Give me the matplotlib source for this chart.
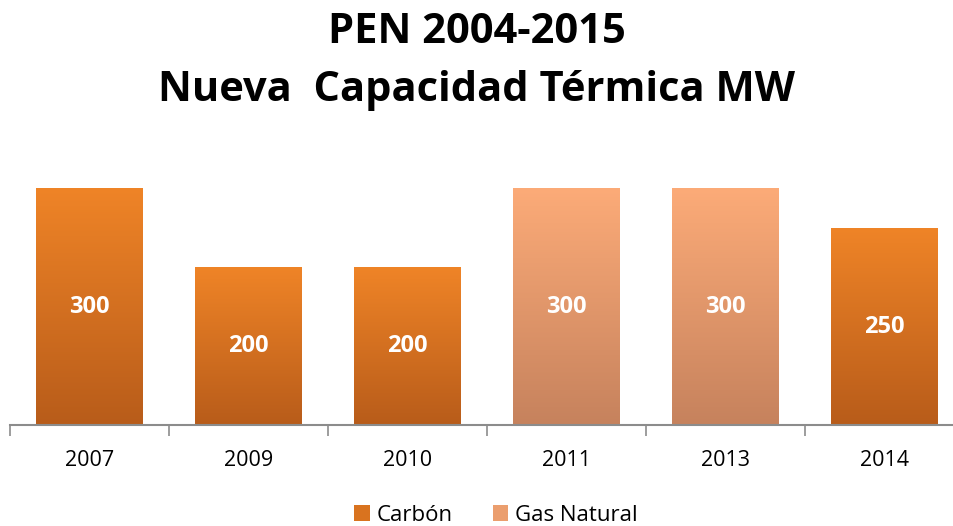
import numpy as np
import matplotlib.pyplot as plt
from matplotlib.colors import LinearSegmentedColormap
from matplotlib.patches import Patch

years = ['2007', '2009', '2010', '2011', '2013', '2014']
capacity = [300, 200, 200, 300, 300, 250]
fuel = ['Carbón', 'Carbón', 'Carbón', 'Gas Natural', 'Gas Natural', 'Carbón']

colors = {'Carbón': ('#ef8427', '#b85c1a'),
          'Gas Natural': ('#fcab78', '#c6825d')}

plt.rcParams['font.family'] = ['Open Sans', 'DejaVu Sans']

fig = plt.figure(figsize=(9.54, 5.26), dpi=100)
ax = fig.add_axes([10 / 954, 101 / 526, 1.0, 255 / 526])

x = np.arange(len(years))
bars = ax.bar(x, capacity, width=0.67, color='none', edgecolor='none')

grad = np.linspace(1, 0, 256).reshape(-1, 1)
for b, f, v in zip(bars, fuel, capacity):
    top, bottom = colors[f]
    cmap = LinearSegmentedColormap.from_list(f, [bottom, top])
    x0, y0 = b.get_x(), b.get_y()
    im = ax.imshow(grad, cmap=cmap, aspect='auto',
                   extent=[x0, x0 + b.get_width(), y0, y0 + b.get_height()],
                   zorder=2)
    ax.text(b.get_x() + b.get_width() / 2, v / 2, str(v),
            ha='center', va='center', color='white',
            fontsize=17, fontweight='bold', zorder=3)

ax.set_xlim(-0.5, len(years) - 0.5)
ax.set_ylim(0, 324)
for s in ['top', 'right', 'left']:
    ax.spines[s].set_visible(False)
ax.spines['bottom'].set_color('#8c8c8c')
ax.spines['bottom'].set_linewidth(1.5)
ax.set_yticks([])
ax.set_xticks(x)
ax.set_xticklabels(years, fontsize=15.5)
ax.tick_params(axis='x', which='major', length=0, pad=18)
ax.set_xticks(np.arange(-0.5, len(years)), minor=True)
ax.tick_params(axis='x', which='minor', length=8, width=1.2, color='#8c8c8c')

fig.suptitle('PEN 2004-2015\nNueva  Capacidad Térmica MW', y=0.978,
             fontsize=30, fontweight='bold', linespacing=1.55)

handles = [Patch(facecolor='#d9731f', label='Carbón'),
           Patch(facecolor='#eb9e6e', label='Gas Natural')]
fig.legend(handles=handles, loc='center', bbox_to_anchor=(0.52, 0.02),
           ncol=2, frameon=False, fontsize=16, handlelength=0.7,
           handleheight=0.7, handletextpad=0.3, columnspacing=1.8)

fig.savefig('out.png', dpi=100)
